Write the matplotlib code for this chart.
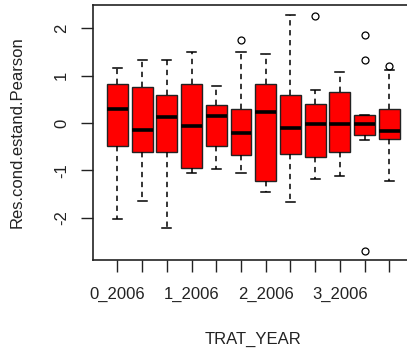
import numpy as np
import matplotlib
matplotlib.use("Agg")
import matplotlib.pyplot as plt

# residuos por grupo TRAT_YEAR
trat_year = ["0_2006", "0_2007", "0_2008", "1_2006", "1_2007", "1_2008",
             "2_2006", "2_2007", "2_2008", "3_2006", "3_2007", "3_2008"]
whislo = [-2.02, -1.65, -2.22, -1.05, -0.97, -1.05, -1.45, -1.67, -1.19, -1.11, -0.36, -1.22]
q1     = [-0.48, -0.60, -0.60, -0.94, -0.48, -0.68, -1.22, -0.65, -0.71, -0.60, -0.25, -0.34]
med    = [ 0.29, -0.14,  0.12, -0.06,  0.14, -0.20,  0.23, -0.11, -0.03, -0.03, -0.03, -0.17]
q3     = [ 0.82,  0.77,  0.60,  0.82,  0.37,  0.29,  0.82,  0.60,  0.40,  0.65,  0.18,  0.29]
whishi = [ 1.17,  1.33,  1.33,  1.50,  0.79,  1.50,  1.46,  2.27,  0.69,  1.08,  0.18,  1.12]
fliers = [[], [], [], [], [], [1.76], [], [], [2.25], [], [1.85, 1.33, -2.69], [1.21]]

plt.rcParams['font.family'] = ['Liberation Sans', 'DejaVu Sans']

stats = []
for i in range(len(trat_year)):
    stats.append(dict(med=med[i], q1=q1[i], q3=q3[i], whislo=whislo[i],
                      whishi=whishi[i], fliers=fliers[i]))

fig = plt.figure(figsize=(4.07, 3.52), dpi=100)
ax = fig.add_axes([0.229, 0.261, 0.787, 0.725])

ax.bxp(stats, positions=np.arange(1, 13), widths=0.84, patch_artist=True,
       boxprops=dict(facecolor="#ff0000", edgecolor="#222222", linewidth=1.0),
       medianprops=dict(color="black", linewidth=2.6, solid_capstyle="butt"),
       whiskerprops=dict(color="black", linewidth=1.1, linestyle=(0, (3.5, 3))),
       capprops=dict(color="black", linewidth=1.1),
       capwidths=0.37,
       flierprops=dict(marker="o", markerfacecolor="none", markeredgecolor="black",
                       markersize=5, markeredgewidth=0.9))

ax.set_xlim(0.02, 12.98)
ax.set_ylim(-2.89, 2.49)

# R solo muestra una etiqueta de cada tres
shown = [n if i % 3 == 0 else "" for i, n in enumerate(trat_year)]
ax.set_xticks(np.arange(1, 13))
ax.set_xticklabels(shown, fontsize=12, color="#222222")
ax.set_yticks([-2, -1, 0, 1, 2])
ax.set_yticklabels(["-2", "-1", "0", "1", "2"], fontsize=12, color="#222222",
                   rotation=90, va="center")
ax.tick_params(axis="both", length=8.4, width=1.0, color="#222222")
ax.tick_params(axis="x", pad=11)
ax.tick_params(axis="y", pad=9)

ax.set_xlabel("TRAT_YEAR", fontsize=12, color="#222222", labelpad=21)
ax.set_ylabel("Res.cond.estand.Pearson", fontsize=12, color="#222222", labelpad=21)

for s in ax.spines.values():
    s.set_linewidth(1.2)
    s.set_color("#222222")

fig.savefig("out.png", dpi=100)
